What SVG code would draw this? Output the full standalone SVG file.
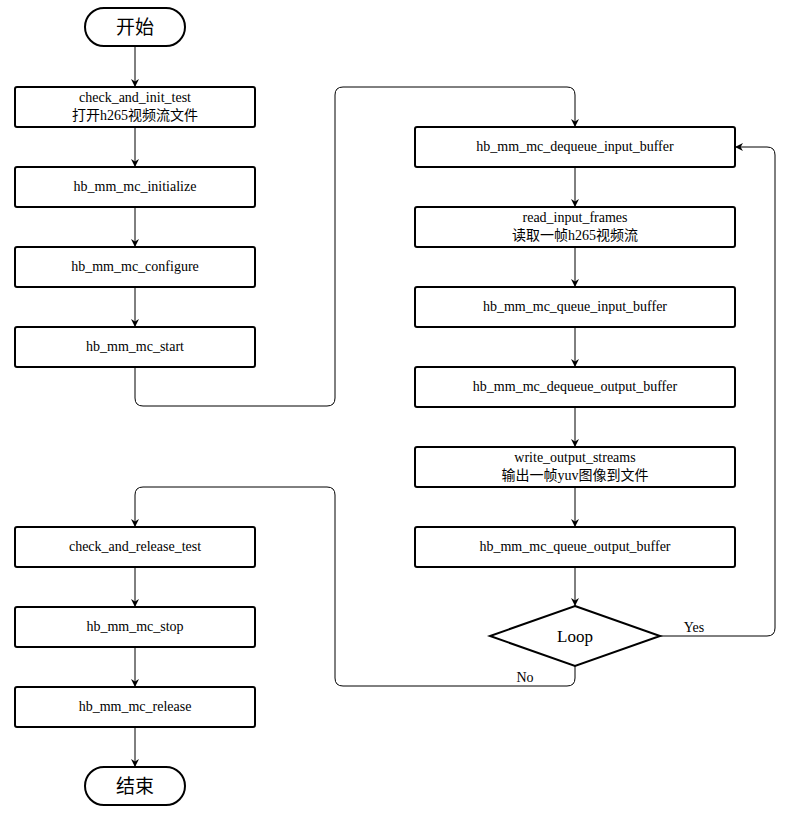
<svg xmlns="http://www.w3.org/2000/svg" width="792" height="815" viewBox="0 0 792 815">
<style>
.box{fill:#fff;stroke:#000;stroke-width:2}
.t{font-family:"Liberation Serif","Noto Sans CJK SC",serif;font-size:14px;fill:#000;text-anchor:middle}
.big{font-family:"Noto Sans CJK SC",sans-serif;font-size:19px;fill:#000;text-anchor:middle}
.c{fill:none;stroke:#000;stroke-width:1}
</style>
<defs>
<marker id="a" viewBox="0 0 10 10" refX="10" refY="5" markerWidth="8" markerHeight="8" markerUnits="userSpaceOnUse" orient="auto"><path d="M0,0 L10,5 L0,10 L3,5 z" fill="#000"/></marker>
</defs>
<rect width="792" height="815" fill="#fff"/>
<g id="connectors">
<path class="c" marker-end="url(#a)" d="M135,46 V87"/>
<path class="c" marker-end="url(#a)" d="M135,127 V167"/>
<path class="c" marker-end="url(#a)" d="M135,207 V247"/>
<path class="c" marker-end="url(#a)" d="M135,287 V327"/>
<path class="c" marker-end="url(#a)" d="M135,367 V398 Q135,406 143,406 H327 Q335,406 335,398 V95 Q335,87 343,87 H567 Q575,87 575,95 V127"/>
<path class="c" marker-end="url(#a)" d="M575,167 V207"/>
<path class="c" marker-end="url(#a)" d="M575,247 V287"/>
<path class="c" marker-end="url(#a)" d="M575,327 V367"/>
<path class="c" marker-end="url(#a)" d="M575,407 V447"/>
<path class="c" marker-end="url(#a)" d="M575,487 V527"/>
<path class="c" marker-end="url(#a)" d="M575,567 V606"/>
<path class="c" marker-end="url(#a)" d="M660,636 H767 Q775,636 775,628 V155 Q775,147 767,147 H735"/>
<path class="c" marker-end="url(#a)" d="M575,666 V678 Q575,686 567,686 H343 Q335,686 335,678 V495 Q335,487 327,487 H143 Q135,487 135,495 V527"/>
<path class="c" marker-end="url(#a)" d="M135,567 V607"/>
<path class="c" marker-end="url(#a)" d="M135,647 V687"/>
<path class="c" marker-end="url(#a)" d="M135,727 V767"/>
<text class="t" x="694" y="632">Yes</text>
<text class="t" x="525" y="682">No</text>
</g>
<g id="start"><rect class="box" x="85" y="8" width="100" height="38" rx="19"/><text class="big" x="135" y="34">开始</text></g>
<g id="n1"><rect class="box" x="15" y="87" width="240" height="40" rx="2"/><text class="t" x="135" y="102">check_and_init_test</text><text class="t" x="135" y="120">打开h265视频流文件</text></g>
<g id="n2"><rect class="box" x="15" y="167" width="240" height="40" rx="2"/><text class="t" x="135" y="191">hb_mm_mc_initialize</text></g>
<g id="n3"><rect class="box" x="15" y="247" width="240" height="40" rx="2"/><text class="t" x="135" y="271">hb_mm_mc_configure</text></g>
<g id="n4"><rect class="box" x="15" y="327" width="240" height="40" rx="2"/><text class="t" x="135" y="351">hb_mm_mc_start</text></g>
<g id="r1"><rect class="box" x="415" y="127" width="320" height="40" rx="2"/><text class="t" x="575" y="151">hb_mm_mc_dequeue_input_buffer</text></g>
<g id="r2"><rect class="box" x="415" y="207" width="320" height="40" rx="2"/><text class="t" x="575" y="222">read_input_frames</text><text class="t" x="575" y="240">读取一帧h265视频流</text></g>
<g id="r3"><rect class="box" x="415" y="287" width="320" height="40" rx="2"/><text class="t" x="575" y="311">hb_mm_mc_queue_input_buffer</text></g>
<g id="r4"><rect class="box" x="415" y="367" width="320" height="40" rx="2"/><text class="t" x="575" y="391">hb_mm_mc_dequeue_output_buffer</text></g>
<g id="r5"><rect class="box" x="415" y="447" width="320" height="40" rx="2"/><text class="t" x="575" y="462">write_output_streams</text><text class="t" x="575" y="480">输出一帧yuv图像到文件</text></g>
<g id="r6"><rect class="box" x="415" y="527" width="320" height="40" rx="2"/><text class="t" x="575" y="551">hb_mm_mc_queue_output_buffer</text></g>
<g id="loop"><polygon class="box" points="575,606 660,636 575,666 490,636"/><text class="t" x="575" y="642" style="font-size:17px">Loop</text></g>
<g id="l1"><rect class="box" x="15" y="527" width="240" height="40" rx="2"/><text class="t" x="135" y="551">check_and_release_test</text></g>
<g id="l2"><rect class="box" x="15" y="607" width="240" height="40" rx="2"/><text class="t" x="135" y="631">hb_mm_mc_stop</text></g>
<g id="l3"><rect class="box" x="15" y="687" width="240" height="40" rx="2"/><text class="t" x="135" y="711">hb_mm_mc_release</text></g>
<g id="end"><rect class="box" x="85" y="767" width="100" height="38" rx="19"/><text class="big" x="135" y="793">结束</text></g>
</svg>
